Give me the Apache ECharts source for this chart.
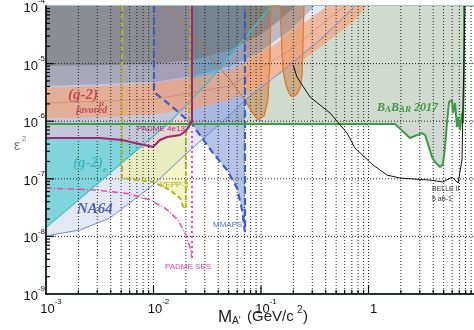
<!DOCTYPE html>
<html>
<head>
<meta charset="utf-8">
<script src="https://cdn.jsdelivr.net/npm/echarts@6/dist/echarts.min.js"></script>
<style>
  html, body { margin: 0; padding: 0; background: #fff; }
  #chart { width: 474px; height: 330px; }
</style>
</head>
<body>
<div id="chart"></div>
<script>
// Dark photon exclusion plot: eps^2 vs M_A' (GeV/c^2)

// BaBar 2017 lower edge (region above is excluded)
const babarEdge = [[1e-3, 8.9e-7], [1.77, 8.9e-7], [2.43, 5.1e-7], [3.15, 6.2e-7], [3.36, 5.8e-7],
  [3.9, 2.4e-7], [4.16, 1.96e-7], [4.63, 1.6e-7], [4.93, 1.8e-7], [5.15, 3.6e-7], [5.37, 9.3e-7],
  [5.61, 2.15e-6], [5.98, 2.33e-6], [6.11, 1.39e-6], [6.38, 2.07e-6], [6.66, 7.9e-7], [6.8, 1.18e-6],
  [7.1, 7.0e-7], [7.41, 1.39e-6], [7.57, 9.3e-7], [7.73, 5.2e-6], [7.73, 1e-4]];
// (g-2)_e edge
const g2eEdge = [[1e-3, 1.42e-8], [7.03e-3, 3.16e-7], [0.0142, 9.7e-7], [0.0336, 5.2e-6], [0.125, 1e-4]];
// NA64 edge
const na64Edge = [[1e-3, 1.02e-8], [2.07e-3, 1.29e-8], [3.94e-3, 2.09e-8], [9.9e-3, 7.8e-8], [0.0205, 2.81e-7],
  [0.0515, 1.29e-6], [0.071, 2.33e-6], [0.15, 6.9e-6], [0.354, 2.57e-5], [0.75, 1e-4]];
// VEPP-3 contour
const veppEdge = [[5.09e-3, 1e-4], [5.09e-3, 1.03e-7], [9.9e-3, 8.8e-8], [0.0142, 6.4e-8], [0.0177, 4.6e-8],
  [0.0192, 3.0e-8], [0.0200, 3.3e-8], [0.0200, 6.2e-7], [0.0214, 7.6e-7], [0.0223, 1e-4]];
// MMAPS contour
const mmapsEdge = [[0.0101, 1e-4], [0.0101, 3.2e-6], [0.0158, 1.63e-6], [0.0228, 8.9e-7], [0.0357, 2.81e-7],
  [0.0483, 1.42e-7], [0.0598, 6.9e-8], [0.0666, 2.9e-8], [0.071, 1.19e-8], [0.071, 1e-4]];
// A1 diagonal edge and valley, APEX valley
const a1Diag = [[0.01365, 1e-4], [0.0271, 2.1e-5], [0.0515, 5.2e-6], [0.071, 2.33e-6]];
const a1Valley = [[0.071, 2.33e-6], [0.0824, 1.44e-6], [0.0938, 1.05e-6], [0.1067, 1.23e-6], [0.116, 2.33e-6],
  [0.121, 1.15e-5], [0.124, 1e-4]];
const apexEdge = [[0.150, 1e-4], [0.160, 7.7e-6], [0.171, 4.25e-6], [0.186, 2.85e-6], [0.199, 2.63e-6],
  [0.216, 2.96e-6], [0.231, 3.8e-6], [0.241, 6.3e-6], [0.246, 2.57e-5], [0.251, 1e-4]];
// grey excluded bands at the top
const greyDarkEdge = [[1e-3, 9.1e-6], [0.0101, 9.8e-6], [0.0233, 1.15e-5], [0.0515, 1.72e-5],
  [0.098, 3.14e-5], [0.150, 5.72e-5], [0.207, 1e-4]];
const greyLightEdge = [[1e-3, 4.1e-6], [0.0101, 4.8e-6], [0.0233, 6.1e-6], [0.0515, 9.1e-6],
  [0.098, 1.59e-5], [0.186, 3.83e-5], [0.318, 1e-4]];
// (g-2)_mu favoured band
const g2muUpper = [[1e-3, 3.77e-6], [3.94e-3, 4.08e-6], [0.0101, 4.61e-6], [0.0233, 5.62e-6], [0.0515, 7.74e-6],
  [0.098, 1.41e-5], [0.186, 3.4e-5], [0.318, 7e-5], [0.411, 1e-4]];
const g2muLower = [[1e-3, 1.14e-6], [3.94e-3, 1.18e-6], [0.0101, 1.33e-6], [0.0233, 1.63e-6], [0.0515, 2.33e-6],
  [0.098, 4.25e-6], [0.231, 1.07e-5], [0.438, 2.57e-5], [0.748, 5.7e-5], [0.969, 1e-4]];
const g2muCenter = [[1e-3, 2.07e-6], [0.0101, 2.4e-6], [0.0515, 4.1e-6], [0.186, 1.72e-5], [0.6, 1e-4]];
// PADME projections
const padme4e13 = [[1e-3, 5.1e-7], [3.18e-3, 5.1e-7], [5.09e-3, 4.72e-7], [9.9e-3, 3.56e-7], [0.0115, 4.72e-7],
  [0.0134, 5.32e-7], [0.0177, 5.76e-7], [0.0200, 6.76e-7], [0.0214, 8.25e-7], [0.0228, 9.7e-7], [0.0228, 1e-4]];
const padmeSes = [[1e-3, 6.9e-8], [2.98e-3, 6.4e-8], [6.04e-3, 5.45e-8], [9.27e-3, 4.3e-8], [0.0128, 3.1e-8],
  [0.0169, 1.93e-8], [0.0200, 1.06e-8], [0.0219, 6.3e-9], [0.0228, 4.2e-9]];
const padmeSesEdge = [[0.0228, 4.2e-9], [0.0228, 7.6e-7]];
// Belle II 5 ab-1 projection
const belle2 = [[0.199, 9.5e-6], [0.216, 5.85e-6], [0.286, 2.63e-6], [0.438, 1.39e-6], [0.631, 6.24e-7],
  [0.748, 3.43e-7], [1.10, 1.74e-7], [1.49, 1.16e-7], [1.96, 1.03e-7], [3.73, 9.5e-8], [4.93, 8.8e-8],
  [5.98, 1.07e-7], [6.81, 8.45e-8], [7.41, 2.12e-7], [7.9, 1e-4]];

// axis ticks / dotted grid
const xMin = 1e-3, xMax = 10, yMin = 1e-9, yMax = 1e-4;
const xGrid = [];
for (let e = -3; e <= 0; e++) for (let m = 1; m <= 9; m++) if (!(e === -3 && m === 1)) xGrid.push(m * Math.pow(10, e));
const yTicks = [];
for (let e = -9; e <= -5; e++) for (let m = 1; m <= 9; m++) if (!(e === -9 && m === 1)) yTicks.push(m * Math.pow(10, e));
const yDotted = [1e-5, 1e-6, 1e-7, 1e-8];

const closeTop = (pts) => [[pts[0][0], yMax], ...pts];
const isMajor = v => Math.abs(Math.log10(v) - Math.round(Math.log10(v))) < 1e-6;

function area(name, pts, fill, z) {
  return {
    name, type: 'custom', z, silent: true, clip: true,
    data: [pts[0]],
    renderItem: (params, api) => ({
      type: 'polygon',
      shape: { points: pts.map(p => api.coord(p)) },
      style: { fill }
    })
  };
}
function edge(name, pts, color, width, type, z) {
  return {
    name, type: 'line', data: pts, z, silent: true, showSymbol: false, symbol: 'none',
    lineStyle: { color, width, type: type || 'solid' }
  };
}

const chart = echarts.init(document.getElementById('chart'), null, { renderer: 'canvas' });

const supLabel = {
  rich: {
    b: { fontSize: 13, color: '#111', fontFamily: 'Liberation Sans', lineHeight: 18, verticalAlign: 'bottom' },
    e: { fontSize: 8, color: '#111', fontFamily: 'Liberation Sans', verticalAlign: 'top', lineHeight: 10 }
  }
};
const expFmt = v => {
  const e = Math.round(Math.log10(v));
  if (e === 0) return '{b|1}';
  if (e === 1) return '{b|10}';
  return '{b|10}{e|' + e + '}';
};

const option = {
  animation: false,
  backgroundColor: '#fff',
  grid: {
    left: 46, top: 6, width: 430, height: 288, containLabel: false, outerBoundsMode: 'none',
    show: true, borderColor: '#4b8790', borderWidth: 1.2
  },
  xAxis: {
    type: 'log', logBase: 10, min: xMin, max: xMax, z: 50,
    axisLine: { lineStyle: { color: '#000', width: 1.5 } },
    axisTick: { show: false }, splitLine: { show: false },
    axisLabel: Object.assign({ formatter: expFmt, margin: 4, padding: [0, 0, 0, 10] }, supLabel)
  },
  yAxis: {
    type: 'log', logBase: 10, min: yMin, max: yMax, z: 50,
    axisLine: { lineStyle: { color: '#000', width: 1.5 } },
    axisTick: { show: false }, splitLine: { show: false },
    axisLabel: Object.assign({ formatter: expFmt, margin: 1 }, supLabel)
  },
  series: [
    area('BaBar', closeTop(babarEdge), '#d0dacf', 1),
    area('NA64', closeTop(na64Edge), 'rgba(228,232,245,1)', 2),
    area('VEPP-3', veppEdge, 'rgba(236,238,150,0.55)', 3),
    area('(g-2)e', closeTop(g2eEdge), 'rgba(103,207,214,0.8)', 4),
    area('MMAPS', mmapsEdge, 'rgba(110,135,210,0.5)', 5),
    area('A1', closeTop(a1Valley), 'rgba(200,110,40,0.45)', 6),
    area('APEX', apexEdge, 'rgba(200,110,40,0.45)', 6),
    area('PADME 4e13', closeTop(padme4e13), 'rgba(240,190,218,0.6)', 7),
    area('grey light', closeTop(greyLightEdge), 'rgba(125,123,135,0.4)', 8),
    area('grey dark', closeTop(greyDarkEdge), 'rgba(112,112,112,0.5)', 9),
    area('(g-2)mu', g2muUpper.concat(g2muLower.slice().reverse()), 'rgba(246,160,112,0.65)', 10),
    {
      name: 'xgrid', type: 'custom', z: 20, silent: true, clip: false,
      data: xGrid.map(v => [v, yMin]),
      renderItem: (params, api) => {
        const v = api.value(0);
        const a = api.coord([v, yMax]), b = api.coord([v, yMin]);
        return {
          type: 'group', children: [
            { type: 'line', shape: { x1: a[0], y1: a[1], x2: b[0], y2: b[1] }, style: { stroke: '#222', lineWidth: 1, lineDash: [1, 2] } },
            { type: 'line', shape: { x1: b[0], y1: b[1], x2: b[0], y2: b[1] - (isMajor(v) ? 8 : 4) }, style: { stroke: '#000', lineWidth: 1.2 } }
          ]
        };
      }
    },
    {
      name: 'yticks', type: 'custom', z: 20, silent: true, clip: false,
      data: yTicks.map(v => [xMin, v]),
      renderItem: (params, api) => {
        const v = api.value(1);
        const a = api.coord([xMin, v]), b = api.coord([xMax, v]);
        const kids = [{ type: 'line', shape: { x1: a[0], y1: a[1], x2: a[0] + (isMajor(v) ? 8 : 4), y2: a[1] }, style: { stroke: '#000', lineWidth: 1.2 } }];
        if (yDotted.some(d => Math.abs(d - v) / d < 1e-6)) {
          kids.push({ type: 'line', shape: { x1: a[0], y1: a[1], x2: b[0], y2: b[1] }, style: { stroke: '#222', lineWidth: 1, lineDash: [1, 2] } });
        }
        return { type: 'group', children: kids };
      }
    },
    edge('g2mu centre', g2muCenter, 'rgba(190,90,90,0.45)', 0.8, 'solid', 30),
    edge('NA64 edge', na64Edge, '#6f8ad4', 1, 'solid', 30),
    edge('g2e edge', g2eEdge, '#45bcc4', 1.2, 'solid', 30),
    edge('A1 diagonal', a1Diag, '#c0703a', 1, 'solid', 31),
    edge('A1 edge', a1Valley.concat(apexEdge), '#e0772a', 1.3, 'solid', 31),
    edge('VEPP edge', veppEdge, '#b4b41e', 2, [5, 3], 32),
    edge('MMAPS edge', mmapsEdge, '#3d5fc4', 2.2, [7, 4], 33),
    edge('BaBar edge', babarEdge, '#3c9c44', 2, 'solid', 34),
    edge('PADME 4e13 edge', padme4e13, '#9c2a73', 2, 'solid', 35),
    edge('PADME SES', padmeSes, '#ee4aa6', 1.5, [6, 2, 1, 2], 35),
    edge('PADME SES edge', padmeSesEdge, '#ee4aa6', 2, [2, 3], 35),
    edge('Belle II', belle2, '#111', 1, 'solid', 36)
  ],
  graphic: [
    { type: 'text', x: 68, y: 88, z: 100, style: { text: '(g-2)', fill: '#c24a5a', font: 'italic bold 15px "Liberation Serif"' } },
    { type: 'text', x: 99, y: 99, z: 100, style: { text: 'μ', fill: '#c24a5a', font: 'italic bold 9px "Liberation Serif"' } },
    { type: 'text', x: 76, y: 105, z: 100, style: { text: 'favored', fill: '#c24a5a', font: 'italic bold 10px "Liberation Serif"' } },
    { type: 'text', x: 73, y: 156, z: 100, style: { text: '(g-2)', fill: '#3fb8c0', font: 'italic bold 15px "Liberation Serif"' } },
    { type: 'text', x: 103, y: 165, z: 100, style: { text: 'e', fill: '#3fb8c0', font: 'italic bold 9px "Liberation Serif"' } },
    { type: 'text', x: 77, y: 202, z: 100, style: { text: 'NA64', fill: '#4d63ad', font: 'italic bold 15px "Liberation Serif"' } },
    { type: 'text', x: 160, y: 181, z: 100, style: { text: 'VEPP-3', fill: '#a8a818', font: '8px "Liberation Sans"' } },
    { type: 'text', x: 137, y: 125, z: 100, style: { text: 'PADME 4e13', fill: '#a3306e', font: '8px "Liberation Sans"' } },
    { type: 'text', x: 165, y: 263, z: 100, style: { text: 'PADME SES', fill: '#e0449c', font: '8px "Liberation Sans"' } },
    { type: 'text', x: 213, y: 221, z: 100, style: { text: 'MMAPS', fill: '#5670c0', font: '8px "Liberation Sans"' } },
    {
      type: 'text', x: 377, y: 100, z: 100,
      style: {
        text: '{b|B}{s|A}{b|B}{s|AR}{b| 2017}',
        rich: {
          b: { fill: '#3e9a44', font: 'italic bold 12px "Liberation Serif"', verticalAlign: 'bottom', lineHeight: 14 },
          s: { fill: '#3e9a44', font: 'italic bold 9px "Liberation Serif"', verticalAlign: 'bottom', lineHeight: 14 }
        }
      }
    },
    { type: 'text', x: 432, y: 186, z: 100, style: { text: 'BELLE II', fill: '#333', font: '7px "Liberation Sans"' } },
    { type: 'text', x: 432, y: 196, z: 100, style: { text: '5 ab-1', fill: '#333', font: '7px "Liberation Sans"' } },
    { type: 'text', x: 14, y: 139, z: 100, style: { text: 'ε', fill: '#777', font: '14px "Liberation Sans"' } },
    { type: 'text', x: 22, y: 135, z: 100, style: { text: '2', fill: '#777', font: '8px "Liberation Sans"' } },
    { type: 'text', x: 218, y: 309, z: 100, style: { text: 'M', fill: '#222', font: '17px "Liberation Sans"' } },
    { type: 'text', x: 232, y: 316, z: 100, style: { text: "A'", fill: '#222', font: '10px "Liberation Sans"' } },
    { type: 'text', x: 247, y: 309, z: 100, style: { text: '(GeV/c', fill: '#222', font: '15px "Liberation Sans"' } },
    { type: 'text', x: 297, y: 305, z: 100, style: { text: '2', fill: '#222', font: '10px "Liberation Sans"' } },
    { type: 'text', x: 303, y: 309, z: 100, style: { text: ')', fill: '#222', font: '15px "Liberation Sans"' } }
  ]
};

chart.setOption(option);
</script>
</body>
</html>
